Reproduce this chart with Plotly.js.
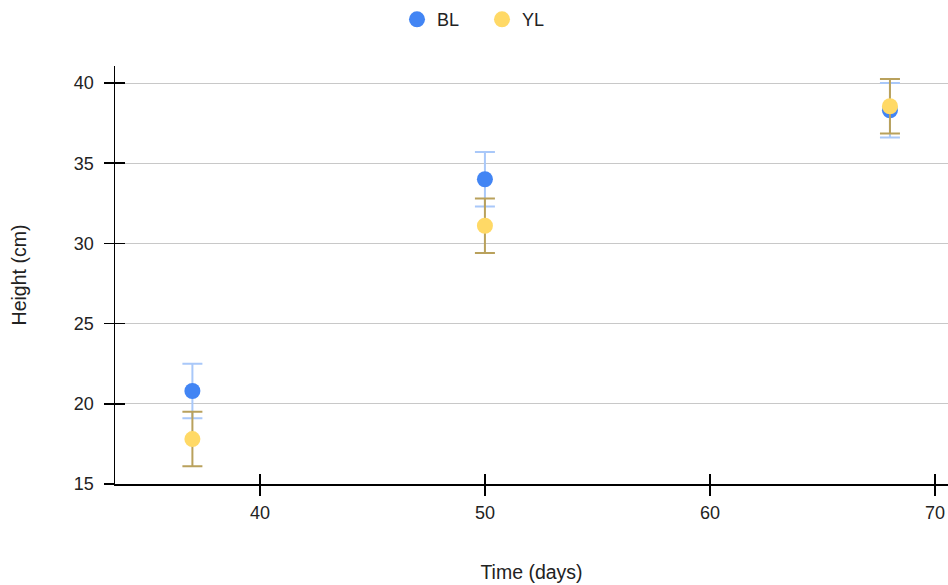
<!DOCTYPE html>
<html>
<head>
<meta charset="utf-8">
<script src="https://cdn.plot.ly/plotly-3.0.1.min.js"></script>
<style>html,body{margin:0;padding:0;background:#fff;}#chart{width:948px;height:585px;}</style>
</head>
<body>
<div id="chart"></div>
<script>
var days = [37, 50, 68];
var blHeight = [20.8, 34.0, 38.3];
var blErr = [1.7, 1.7, 1.7];
var ylHeight = [17.8, 31.1, 38.55];
var ylErr = [1.7, 1.7, 1.7];

var fam = '"Liberation Sans", Arial, sans-serif';
var tickFont = {family: fam, size: 18, color: '#222'};
var titleFont = {family: fam, size: 19.5, color: '#222'};
var legendFont = {family: fam, size: 18, color: '#222'};

var traces = [
  {x: days, y: blHeight, name: 'BL', type: 'scatter', mode: 'markers',
   marker: {color: '#4285F4', size: 16},
   error_y: {type: 'data', array: blErr, visible: true, color: '#A9C8F9', thickness: 2, width: 10}},
  {x: days, y: ylHeight, name: 'YL', type: 'scatter', mode: 'markers',
   marker: {color: '#FFD966', size: 16},
   error_y: {type: 'data', array: ylErr, visible: true, color: '#B9A15C', thickness: 2, width: 10}}
];

var xr = [33.56, 70.58], yr = [15, 41.06];
var layout = {
  width: 948, height: 585,
  margin: {l: 115, r: 0, t: 66, b: 101},
  paper_bgcolor: '#fff', plot_bgcolor: '#fff',
  font: tickFont,
  showlegend: true,
  legend: {orientation: 'h', x: 397 / 948, xref: 'container', xanchor: 'left', y: 0.998, yref: 'container', yanchor: 'top',
    font: legendFont, entrywidth: 40, entrywidthmode: 'pixels', tracegroupgap: 0},
  xaxis: {range: xr, tickvals: [40, 50, 60, 70], showgrid: false, zeroline: false,
    showline: true, linecolor: '#000', linewidth: 1.5, ticks: 'outside', ticklen: 10, tickwidth: 1.5, tickcolor: '#000',
    ticklabelstandoff: 2,
    tickfont: tickFont, title: {text: 'Time (days)', font: titleFont, standoff: 43}},
  yaxis: {range: yr, tickvals: [15, 20, 25, 30, 35, 40], showgrid: true, gridcolor: '#c8c8c8', gridwidth: 1, zeroline: false,
    showline: true, linecolor: '#000', linewidth: 1.5, ticks: 'outside', ticklen: 10, tickwidth: 1.5, tickcolor: '#000',
    ticklabelstandoff: 6,
    tickfont: tickFont, title: {text: 'Height (cm)', font: titleFont, standoff: 42}},
  xaxis2: {range: xr, overlaying: 'x', anchor: 'y2', tickvals: [40, 50, 60, 70], showticklabels: false, showgrid: false, zeroline: false,
    ticks: 'inside', ticklen: 10, tickwidth: 1.5, tickcolor: '#000'},
  yaxis2: {range: yr, overlaying: 'y', anchor: 'x2', tickvals: [15, 20, 25, 30, 35, 40], showticklabels: false, showgrid: false, zeroline: false,
    ticks: 'inside', ticklen: 10, tickwidth: 1.5, tickcolor: '#000'}
};
traces.push({x: [], y: [], xaxis: 'x2', yaxis: 'y2', showlegend: false, type: 'scatter'});
Plotly.newPlot('chart', traces, layout, {displayModeBar: false, staticPlot: true});
</script>
</body>
</html>
